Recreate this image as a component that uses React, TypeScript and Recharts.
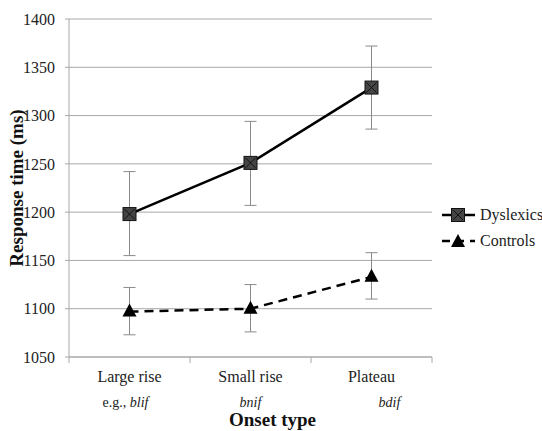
import React from 'react';
import { LineChart, Line, XAxis, YAxis, CartesianGrid, ErrorBar } from 'recharts';

const categories = ['Large rise', 'Small rise', 'Plateau'];
const examplePrefix = ['e.g., ', '', ''];
const exampleWords = ['blif', 'bnif', 'bdif'];

const dyslexicMeans = [1198, 1251, 1329];
const dyslexicUpper = [1242, 1294, 1372];
const dyslexicLower = [1155, 1207, 1286];

const controlMeans = [1097, 1100, 1133];
const controlUpper = [1122, 1125, 1158];
const controlLower = [1073, 1076, 1110];

const yTicks = [1050, 1100, 1150, 1200, 1250, 1300, 1350, 1400];

const data = categories.map((name, i) => ({
  name,
  dyslexics: dyslexicMeans[i],
  dysErr: [dyslexicMeans[i] - dyslexicLower[i], dyslexicUpper[i] - dyslexicMeans[i]],
  controls: controlMeans[i],
  ctlErr: [controlMeans[i] - controlLower[i], controlUpper[i] - controlMeans[i]],
}));

const FONT = '"Liberation Serif", "Times New Roman", serif';
const GRID = '#a8a8a8';
const W = 542;
const H = 431;
const M = { top: 19, right: 110, bottom: 0, left: 0 };
const X_AXIS_H = 74;
const Y_AXIS_W = 69;
const halfBand = (W - M.right - M.left - Y_AXIS_W) / categories.length / 2;
const exampleShift = [-4, 0, 18];

const SquareMark = ({ cx, cy }: any) => (
  <g>
    <rect x={cx - 6.5} y={cy - 6.5} width={13} height={13} fill="#454545" stroke="#111" strokeWidth={1} />
    <path d={`M${cx - 5},${cy - 5}L${cx + 5},${cy + 5}M${cx + 5},${cy - 5}L${cx - 5},${cy + 5}`} stroke="#111" strokeWidth={1} />
  </g>
);

const TriangleMark = ({ cx, cy }: any) => (
  <path d={`M${cx},${cy - 8}L${cx + 7},${cy + 5}L${cx - 7},${cy + 5}Z`} fill="#000" />
);

const CategoryTick = ({ x, y, index }: any) => (
  <g>
    <line x1={x - halfBand} x2={x - halfBand} y1={y} y2={y + 6} stroke={GRID} />
    {index === categories.length - 1 && (
      <line x1={x + halfBand} x2={x + halfBand} y1={y} y2={y + 6} stroke={GRID} />
    )}
    <text x={x} y={y + 25} textAnchor="middle" fontFamily={FONT} fontSize={16} fill="#222">
      {categories[index]}
    </text>
    <text x={x + exampleShift[index]} y={y + 50} textAnchor="middle" fontFamily={FONT} fontSize={14} fill="#222">
      {examplePrefix[index]}
      <tspan fontStyle="italic">{exampleWords[index]}</tspan>
    </text>
  </g>
);

const LegendRow = ({ dashed, square, label }: { dashed: boolean; square: boolean; label: string }) => (
  <div style={{ display: 'flex', alignItems: 'center', height: 26 }}>
    <svg width={36} height={20}>
      <line x1={1} x2={34} y1={10} y2={10} stroke="#000" strokeWidth={2.5} strokeDasharray={dashed ? '8 6' : undefined} />
      {square ? <SquareMark cx={17} cy={10} /> : <TriangleMark cx={17} cy={11} />}
    </svg>
    <span style={{ fontFamily: FONT, fontSize: 16, color: '#222', marginLeft: 3 }}>{label}</span>
  </div>
);

export default function App() {
  return (
    <div style={{ position: 'absolute', left: 0, top: 0, width: W, height: H, background: '#fff' }}>
      <LineChart width={W} height={H} data={data} margin={M}>
        <CartesianGrid vertical={false} stroke={GRID} strokeWidth={1} />
        <XAxis
          dataKey="name"
          axisLine={{ stroke: GRID }}
          tickLine={false}
          tickSize={0}
          tickMargin={0}
          height={X_AXIS_H}
          padding={{ left: halfBand, right: halfBand }}
          tick={<CategoryTick />}
          interval={0}
          label={{
            value: 'Onset type',
            position: 'insideBottom',
            offset: 5,
            dx: 22,
            style: { fontFamily: FONT, fontSize: 19, fontWeight: 'bold', fill: '#111' },
          }}
        />
        <YAxis
          width={Y_AXIS_W}
          domain={[1050, 1400]}
          ticks={yTicks}
          interval={0}
          axisLine={{ stroke: GRID }}
          tickLine={{ stroke: GRID }}
          tickSize={4}
          tickMargin={10}
          tick={{ fontFamily: FONT, fontSize: 16, fill: '#222' }}
          label={{
            value: 'Response time (ms)',
            angle: -90,
            position: 'insideLeft',
            offset: 16,
            style: { fontFamily: FONT, fontSize: 19, fontWeight: 'bold', fill: '#111', textAnchor: 'middle' },
          }}
        />
        <Line
          dataKey="dyslexics"
          stroke="#000"
          strokeWidth={2.5}
          dot={(p: any) => <SquareMark key={`d${p.index}`} cx={p.cx} cy={p.cy} />}
          activeDot={false}
          isAnimationActive={false}
        >
          <ErrorBar dataKey="dysErr" width={6} stroke="#8a8a8a" strokeWidth={1} direction="y" />
        </Line>
        <Line
          dataKey="controls"
          stroke="#000"
          strokeWidth={2.5}
          strokeDasharray="9 6"
          dot={(p: any) => <TriangleMark key={`c${p.index}`} cx={p.cx} cy={p.cy} />}
          activeDot={false}
          isAnimationActive={false}
        >
          <ErrorBar dataKey="ctlErr" width={6} stroke="#8a8a8a" strokeWidth={1} direction="y" />
        </Line>
      </LineChart>
      <div style={{ position: 'absolute', left: 441, top: 202 }}>
        <LegendRow dashed={false} square={true} label="Dyslexics" />
        <LegendRow dashed={true} square={false} label="Controls" />
      </div>
    </div>
  );
}
